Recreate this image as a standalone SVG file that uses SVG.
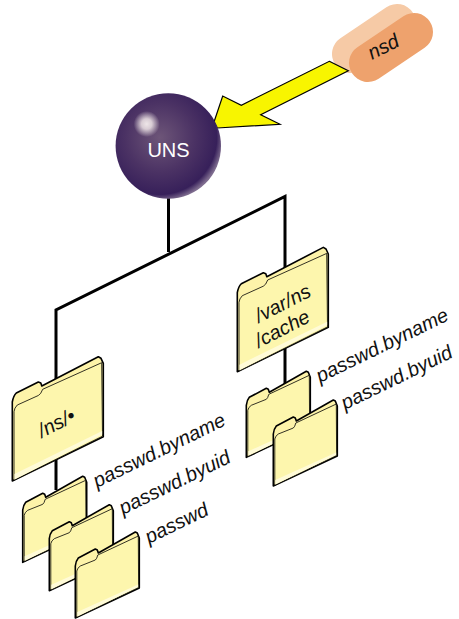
<svg xmlns="http://www.w3.org/2000/svg" width="459" height="619" viewBox="0 0 459 619">
<style>
text{font-family:"Liberation Sans",Arial,sans-serif}
.l{font-size:20px;font-style:italic;fill:#111}
.line{fill:none;stroke:#000;stroke-width:3}
.fb{fill:#fdf3a9;stroke:#000;stroke-width:1.6;stroke-linejoin:round}
.ff{fill:#fdf6ad;stroke:#000;stroke-width:.8;stroke-linejoin:round}
.bd{fill:#fffbd8;stroke:none}
</style>
<defs>
<radialGradient id="sph" cx=".42" cy=".42" r=".6">
<stop offset="0" stop-color="#6d5578"/><stop offset=".55" stop-color="#4b3264"/><stop offset=".9" stop-color="#37205a"/><stop offset="1" stop-color="#7d6b8e"/>
</radialGradient>
<radialGradient id="hl"><stop offset="0" stop-color="#eee6e8"/><stop offset=".4" stop-color="#d8ccd4"/><stop offset="1" stop-color="#d8ccd4" stop-opacity="0"/></radialGradient>
<g id="big">
<path class="fb" d="M0 0V-79Q1-85 4-88L26-99L28.5-98L29.5-95L86-124.3L88.7-122.7L91-117.7V-44.3Z"/>
<path class="ff" d="M1.7-.8V-69.3Q2-73 5-76L26-85.5Q28.5-86.5 30.4-91.7L89.4-118.3L90.2-44.8Z"/>
<path class="bd" d="M2.2-1.5V-7L89.8-50V-46.5Z"/>
</g>
<g id="small">
<path class="fb" d="M0 0V-52Q.5-57 3-60L20-69L22-68L23-65L60-86L62-85L64-80V-30Z"/>
<path class="ff" d="M1.5-.8V-47Q2-50 5-52L20-58Q21.5-59 22.5-63L63-82L63.3-30.6Z"/>
<path class="bd" d="M2-1.5V-6L62.8-33.5V-31Z"/>
</g>
</defs>
<g id="connectors">
<path class="line" d="M168.500 197V252"/>
<path class="line" d="M56 490V310L285 196.500V390"/>
</g>
<g id="nsd">
<path d="M351 54L397 23" stroke="#f6caa6" stroke-width="38" stroke-linecap="round" fill="none"/>
<path d="M368 63L414 32" stroke="#eea26d" stroke-width="38" stroke-linecap="round" fill="none"/>
<text class="l" transform="translate(372 60) rotate(-27)">nsd</text>
</g>
<g id="arrow">
<path d="M329.300 61.300L348.300 70.700L260.700 114.700L280 124.300L217.300 128L214 122L222.700 96L241.300 105.300Z" fill="#f8f500" stroke="#000" stroke-width="1.200" stroke-linejoin="miter"/>
</g>
<g id="uns">
<circle cx="168.300" cy="146" r="52.700" fill="url(#sph)"/>
<circle cx="146.700" cy="124" r="13" fill="url(#hl)"/>
<text x="168.500" y="157" text-anchor="middle" font-size="20" fill="#fff">UNS</text>
</g>
<g id="folder-ns-1"><use href="#small" x="22.700" y="562.300"/></g>
<g id="folder-ns-2"><use href="#small" x="49.300" y="590.700"/></g>
<g id="folder-ns-3"><use href="#small" x="75.300" y="618"/></g>
<g id="folder-ns"><use href="#big" x="12.300" y="481"/>
<text class="l" transform="translate(42 438) rotate(-27)">/ns/•</text></g>
<g id="folder-var-1"><use href="#small" x="246.300" y="457.300"/></g>
<g id="folder-var-2"><use href="#small" x="273.300" y="486"/></g>
<g id="folder-var"><use href="#big" x="237.300" y="371.700"/>
<text class="l" transform="translate(259 323) rotate(-27)">/var/ns</text>
<text class="l" transform="translate(259 348) rotate(-27)">/cache</text></g>
<g id="labels">
<text class="l" transform="translate(97 488) rotate(-26)">passwd.byname</text>
<text class="l" transform="translate(123 515) rotate(-26)">passwd.byuid</text>
<text class="l" transform="translate(149 544) rotate(-26)">passwd</text>
<text class="l" transform="translate(320 383) rotate(-26)">passwd.byname</text>
<text class="l" transform="translate(345 410) rotate(-26)">passwd.byuid</text>
</g>
</svg>
